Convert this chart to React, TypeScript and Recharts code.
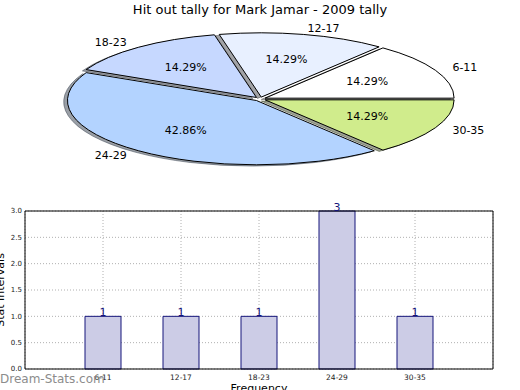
import { PieChart, Pie, Cell, Sector, BarChart, Bar, XAxis, YAxis, CartesianGrid, LabelList } from "recharts";

const categories = ["6-11", "12-17", "18-23", "24-29", "30-35"];
const counts = [1, 1, 1, 3, 1];
const sliceColors = ["#ffffff", "#e8f0ff", "#c6d8ff", "#b3d3ff", "#d0ec8c"];
const yTicks = [0, 0.5, 1, 1.5, 2, 2.5, 3];

const pieData = categories.map((name, i) => ({ name, value: counts[i] }));
const barData = categories.map((label, i) => ({ label, count: counts[i] }));

const FONT = "'DejaVu Sans', sans-serif";
const RAD = Math.PI / 180;
const SQUASH = 64.3 / 189; // pie is drawn as an ellipse
const EXPLODE = 0.03;
const SHADOW = 0.02;

function midOf(p: any) {
  return p.midAngle ?? (p.startAngle + p.endAngle) / 2;
}

function squash(cx: number, cy: number) {
  return `translate(${cx} ${cy}) scale(1 ${SQUASH}) translate(${-cx} ${-cy})`;
}

function darken(hex: string) {
  const n = parseInt(hex.slice(1), 16);
  const r = Math.round(((n >> 16) & 255) * 0.3);
  const g = Math.round(((n >> 8) & 255) * 0.3);
  const b = Math.round((n & 255) * 0.3);
  return `rgb(${r},${g},${b})`;
}

function Wedge(props: any) {
  const { cx, cy, outerRadius, startAngle, endAngle, fill } = props;
  const a = midOf(props) * RAD;
  const d = EXPLODE * outerRadius;
  return (
    <g transform={squash(cx, cy)}>
      <Sector
        cx={cx + d * Math.cos(a)}
        cy={cy - d * Math.sin(a)}
        innerRadius={0}
        outerRadius={outerRadius}
        startAngle={startAngle}
        endAngle={endAngle}
        fill={fill}
        stroke="#000"
        strokeWidth={1}
        vectorEffect="non-scaling-stroke"
      />
    </g>
  );
}

function ShadowWedge(props: any) {
  const { cx, cy, outerRadius, startAngle, endAngle, fill } = props;
  const a = midOf(props) * RAD;
  const d = EXPLODE * outerRadius;
  const s = SHADOW * outerRadius;
  const c = darken(fill);
  return (
    <g transform={squash(cx, cy)}>
      <Sector
        cx={cx + d * Math.cos(a) - s}
        cy={cy - d * Math.sin(a) + s}
        innerRadius={0}
        outerRadius={outerRadius}
        startAngle={startAngle}
        endAngle={endAngle}
        fill={c}
        fillOpacity={0.5}
        stroke={c}
        strokeOpacity={0.5}
        strokeWidth={1}
        vectorEffect="non-scaling-stroke"
      />
    </g>
  );
}

function PieLabel(props: any) {
  const { cx, cy, outerRadius, percent, name } = props;
  const a = midOf(props) * RAD;
  const c = Math.cos(a);
  const s = Math.sin(a);
  const ex = cx + EXPLODE * outerRadius * c;
  const ey = cy - EXPLODE * outerRadius * s * SQUASH;
  return (
    <g fontFamily={FONT} fontSize={11} fill="#000">
      <text x={ex + 0.6 * outerRadius * c} y={ey - 0.6 * outerRadius * s * SQUASH} textAnchor="middle" dominantBaseline="central">
        {(percent * 100).toFixed(2)}%
      </text>
      <text x={ex + 1.1 * outerRadius * c} y={ey - 1.1 * outerRadius * s * SQUASH} textAnchor={c > 0 ? "start" : "end"} dominantBaseline="central">
        {name}
      </text>
    </g>
  );
}

function YLabel(props: any) {
  const vb = props.viewBox;
  const x = vb.x + 4;
  const y = vb.y + vb.height / 2;
  return (
    <text x={x} y={y} transform={`rotate(-90 ${x} ${y})`} textAnchor="middle" fontFamily={FONT} fontSize={11} fill="#000">
      Stat Intervals
    </text>
  );
}

function XLabel(props: any) {
  const vb = props.viewBox;
  return (
    <text x={vb.x + vb.width / 2} y={vb.y + vb.height + 2} textAnchor="middle" fontFamily={FONT} fontSize={11} fill="#000">
      Frequency
    </text>
  );
}

export default function App() {
  const shadowProps: any = { shape: ShadowWedge, inactiveShape: ShadowWedge, activeShape: ShadowWedge };
  const wedgeProps: any = { shape: Wedge, inactiveShape: Wedge, activeShape: Wedge };
  return (
    <div style={{ position: "absolute", left: 0, top: 0, width: 520, height: 390, background: "#fff", overflow: "hidden", fontFamily: FONT }}>
      {/* PIE */}
      <div style={{ position: "absolute", top: 0, left: 0 }}>
        <PieChart width={520} height={195} margin={{ top: 0, right: 0, bottom: 0, left: 0 }}>
          <Pie
            data={pieData}
            dataKey="value"
            nameKey="name"
            cx={260}
            cy={99}
            outerRadius={189}
            startAngle={0}
            endAngle={360}
            {...shadowProps}
            label={false}
            labelLine={false}
            isAnimationActive={false}
          >
            {pieData.map((d, i) => (
              <Cell key={d.name} fill={sliceColors[i]} />
            ))}
          </Pie>
          <Pie
            data={pieData}
            dataKey="value"
            nameKey="name"
            cx={260}
            cy={99}
            outerRadius={189}
            startAngle={0}
            endAngle={360}
            {...wedgeProps}
            label={PieLabel}
            labelLine={false}
            isAnimationActive={false}
          >
            {pieData.map((d, i) => (
              <Cell key={d.name} fill={sliceColors[i]} />
            ))}
          </Pie>
        </PieChart>
      </div>

      {/* TITLE */}
      <div style={{ position: "absolute", top: 2, left: 0, width: 520, textAlign: "center", fontSize: 13, lineHeight: "16px", color: "#000" }}>
        Hit out tally for Mark Jamar - 2009 tally
      </div>

      {/* BARS */}
      <div style={{ position: "absolute", top: 195, left: 0 }}>
        <BarChart width={520} height={195} data={barData} margin={{ top: 15, right: 26, bottom: 0, left: 0 }}>
          <CartesianGrid stroke="#b0b0b0" strokeDasharray="1 2" />
          <XAxis
            dataKey="label"
            interval={0}
            height={21}
            padding={{ left: 39, right: 39 }}
            tick={{ fontSize: 7.5, fill: "#222", fontFamily: FONT }}
            tickLine={false}
            tickSize={2}
            tickMargin={4}
            axisLine={{ stroke: "#000" }}
            label={{ content: XLabel }}
          />
          <XAxis xAxisId="top" dataKey="label" orientation="top" height={1} tick={false} tickLine={false} axisLine={{ stroke: "#000" }} padding={{ left: 39, right: 39 }} />
          <YAxis
            width={25}
            domain={[0, 3]}
            ticks={yTicks}
            tickFormatter={(v: number) => v.toFixed(1)}
            tick={{ fontSize: 7, fill: "#222", fontFamily: FONT }}
            tickLine={false}
            tickSize={1}
            tickMargin={2}
            axisLine={{ stroke: "#000" }}
            label={{ content: YLabel }}
          />
          <YAxis yAxisId="right" orientation="right" width={1} domain={[0, 3]} tick={false} tickLine={false} axisLine={{ stroke: "#000" }} />
          <Bar dataKey="count" fill="#ccccE6" stroke="#14147a" strokeWidth={1} barSize={36} isAnimationActive={false}>
            <LabelList dataKey="count" position="top" offset={0} fill="#14147a" fontSize={11} fontFamily={FONT} />
          </Bar>
        </BarChart>
      </div>

      {/* WATERMARK */}
      <div style={{ position: "absolute", top: 372, left: 0, fontSize: 12, lineHeight: "15px", color: "#8c8c8c" }}>
        Dream-Stats.com
      </div>
    </div>
  );
}
